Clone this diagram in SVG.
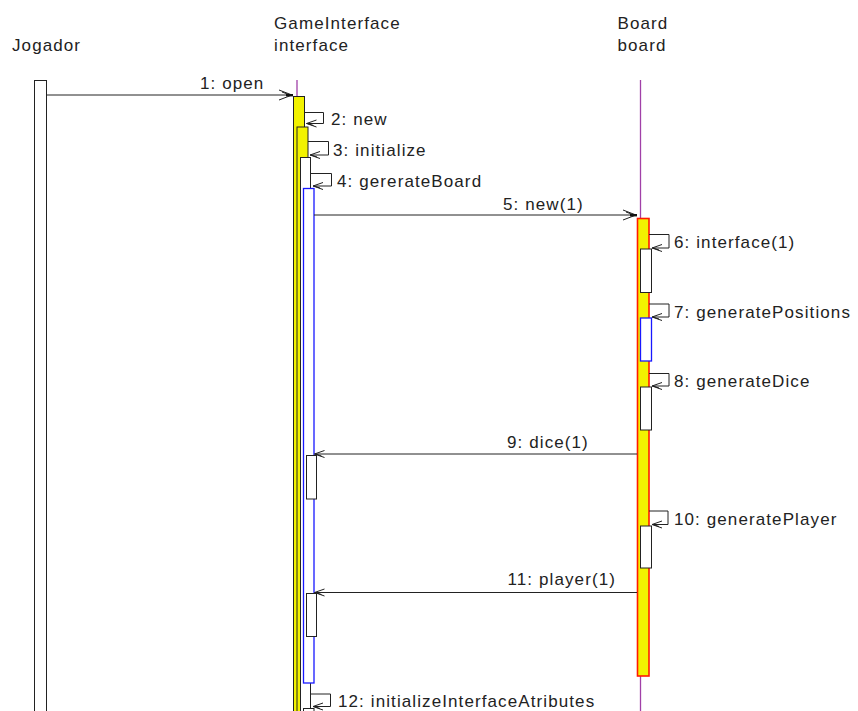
<svg xmlns="http://www.w3.org/2000/svg" width="858" height="711" viewBox="0 0 858 711">
<style>
text{font-family:"Liberation Sans",Arial,sans-serif;font-size:17px;letter-spacing:1.1px;fill:#222}
.msg{stroke:#222;stroke-width:1;fill:none}
.life{stroke:#a040a8;stroke-width:1.3}
.act{stroke:#222;stroke-width:1;fill:#fff}
.yel{stroke:#222;stroke-width:1;fill:#f2f200}
</style>
<defs>
<marker id="big" markerUnits="userSpaceOnUse" markerWidth="20" markerHeight="16" refX="16" refY="8" orient="auto" overflow="visible">
<path d="M2,3 L15,8 L2,13 M5,5 L13,8" fill="none" stroke="#222" stroke-width="1"/>
<rect x="9" y="7" width="7" height="2.4" fill="#111"/>
</marker>
<marker id="sm" markerUnits="userSpaceOnUse" markerWidth="12" markerHeight="10" refX="10" refY="5" orient="auto" overflow="visible">
<path d="M0,1.5 L10,5 L0,8.5 M3,3 L9,5" fill="none" stroke="#222" stroke-width="1"/>
</marker>
</defs>

<g id="jogador">
<text x="12" y="50.5">Jogador</text>
<rect class="act" x="34.5" y="80.5" width="12" height="640" stroke="#444" stroke-width="1.3"/>
</g>

<g id="gameinterface">
<text x="274" y="28.5">GameInterface</text>
<text x="274" y="50.5">interface</text>
<line class="life" x1="297" y1="80" x2="297" y2="96"/>
<rect class="yel" x="293.5" y="96.5" width="11" height="630"/>
<rect class="yel" x="297" y="127" width="11" height="600"/>
<rect class="act" x="300.5" y="157.5" width="10" height="570"/>
<rect x="303.5" y="188.5" width="10.5" height="494.5" fill="#fff" stroke="#1818ff" stroke-width="1.3"/>
<rect class="act" x="306.5" y="455.5" width="10" height="43.5"/>
<rect class="act" x="306.5" y="593.5" width="10" height="43"/>
<rect class="act" x="303.5" y="708.5" width="10.5" height="10"/>
</g>

<g id="board">
<text x="617.5" y="28.5">Board</text>
<text x="617.5" y="50.5">board</text>
<line class="life" x1="640.5" y1="80" x2="640.5" y2="218"/>
<line class="life" x1="640.5" y1="676" x2="640.5" y2="711"/>
<rect x="637.5" y="218.5" width="11.5" height="457.5" fill="#f2f200" stroke="#ff1a00" stroke-width="1.6"/>
<rect class="act" x="640.5" y="249" width="11" height="43.5"/>
<rect x="640.5" y="318" width="11" height="43" fill="#fff" stroke="#1818ff" stroke-width="1.3"/>
<rect class="act" x="640.5" y="387" width="11" height="43"/>
<rect class="act" x="640.5" y="526" width="11" height="42"/>
</g>

<g id="connectors">
<path class="msg" d="M46.5,95 H293" marker-end="url(#big)"/>
<text x="200" y="88.5">1: open</text>

<path class="msg" d="M304.5,112.5 H323.5 V123.5 H306.5" marker-end="url(#sm)"/>
<text x="331" y="125">2: new</text>

<path class="msg" d="M308,141.5 H328.5 V155 H310" marker-end="url(#sm)"/>
<text x="333" y="156">3: initialize</text>

<path class="msg" d="M310.5,173.5 H331.5 V186 H313" marker-end="url(#sm)"/>
<text x="337" y="187">4: gererateBoard</text>

<path class="msg" d="M314,215 H637" marker-end="url(#big)"/>
<text x="503" y="210">5: new(1)</text>

<path class="msg" d="M649,234.5 H669 V248 H652" marker-end="url(#sm)"/>
<text x="674" y="248">6: interface(1)</text>

<path class="msg" d="M649,304 H669 V317 H652" marker-end="url(#sm)"/>
<text x="674" y="317.5">7: generatePositions</text>

<path class="msg" d="M649,373.5 H669 V386 H652" marker-end="url(#sm)"/>
<text x="674" y="386.5">8: generateDice</text>

<path class="msg" d="M637,454 H314.5" marker-end="url(#sm)"/>
<text x="507" y="447.5">9: dice(1)</text>

<path class="msg" d="M649,511 H668 V524.5 H652" marker-end="url(#sm)"/>
<text x="674" y="524.5">10: generatePlayer</text>

<path class="msg" d="M637,592.5 H314.5" marker-end="url(#sm)"/>
<text x="507.5" y="585">11: player(1)</text>

<path class="msg" d="M310.5,694 H330.5 V706.5 H313" marker-end="url(#sm)"/>
<text x="338" y="707">12: initializeInterfaceAtributes</text>
</g>
</svg>
